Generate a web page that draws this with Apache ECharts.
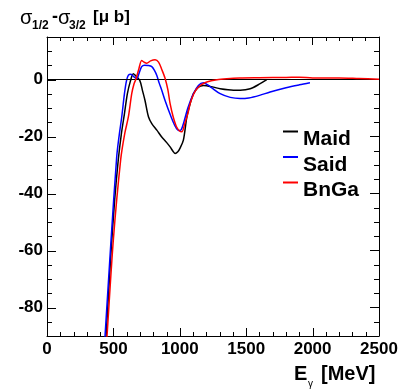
<!DOCTYPE html>
<html>
<head>
<meta charset="utf-8">
<script src="https://cdn.jsdelivr.net/npm/echarts@6/dist/echarts.min.js"></script>
<style>html,body{margin:0;padding:0;background:#fff}#c{width:408px;height:390px}</style>
</head>
<body>
<div id="c"></div>
<script>
var FONT = "'Liberation Sans', Arial, Helvetica, sans-serif";

var maidE = [430,445,480,510,537,560,583,605,628,650,672,700,720,738,764,789,827,864,900,927,950,965,985,1002,1027,1053,1078,1103,1140,1178,1253,1304,1404,1455,1530,1605,1655];
var maidV = [-100,-90,-62,-42,-28,-19,-12,-5,-0.5,2.1,1.2,-0.4,-4,-7.3,-13,-15.4,-17.7,-20.1,-22,-23.6,-25.2,-25.9,-25.3,-24,-21.2,-13.1,-8.4,-4.9,-2.6,-2.0,-2.6,-3.2,-3.7,-3.7,-3.2,-1.4,0];

var saidE = [420,437,480,525,545,563,583,598,613,632,655,676,695,713,735,760,789,810,827,845,864,889,930,965,990,1010,1030,1060,1103,1140,1178,1230,1304,1380,1454,1520,1600,1680,1800,1900,1980];
var saidV = [-102,-90,-58,-27,-19,-13,-5,-0.5,1.6,1.9,1.0,0.4,2.5,4.6,5.1,5.0,4.6,3.2,1.5,-1.2,-3.7,-7.3,-12.5,-16.3,-17.8,-17.6,-15,-10,-4.9,-2,-1.05,-2.5,-4.9,-6.2,-6.6,-6.4,-5.5,-4.3,-2.8,-1.8,-1.1];

var bngaE = [435,452,500,555,585,613,638,655,668,690,713,730,751,780,814,840,865,889,910,927,950,975,1000,1015,1040,1060,1078,1103,1128,1160,1203,1280,1354,1450,1600,1800,1900,2000,2200,2350,2500];
var bngaV = [-102,-90,-56,-28,-19,-13,-4.9,-1.5,0,3.5,6.75,6.2,5.8,6.6,7.0,6.2,3.5,0.5,-3.5,-8.4,-13,-16.5,-18.1,-18.3,-15,-12,-8.4,-5.2,-3.2,-1.8,-0.8,0,0.35,0.6,0.7,0.8,0.9,0.6,0.6,0.4,0.2];

var yMajor = [-80, -60, -40, -20, 0];
var seriesNames = ['Maid', 'Said', 'BnGa'];
var seriesColors = ['#000000', '#0000ff', '#ff0000'];

var X_MIN = 0, X_MAX = 2500, Y_MIN = -90, Y_MAX = 15;

function zip(a, b) { return a.map(function (v, i) { return [v, b[i]]; }); }

// tick positions (minor every 100 / every 5)
var xTickVals = []; for (var t = X_MIN; t <= X_MAX; t += 100) xTickVals.push(t);
var yTickVals = []; for (var u = Y_MIN; u <= Y_MAX; u += 5) yTickVals.push(u);

var GRID = {left: 47, right: 29, top: 37, bottom: 54};
var GW = 408 - GRID.left - GRID.right;
var GH = 390 - GRID.top - GRID.bottom;

var chart = echarts.init(document.getElementById('c'), null, {renderer: 'canvas'});
var blk = {color: '#000', width: 1};

function xFrame(pos, labels) {
  return {
    type: 'value', position: pos, min: X_MIN, max: X_MAX, interval: 500,
    axisLine: {show: true, onZero: false, lineStyle: blk},
    axisTick: {show: false}, minorTick: {show: false},
    splitLine: {show: false},
    axisLabel: {show: labels, margin: 5, color: '#000', fontSize: 17, fontWeight: 'bold', fontFamily: FONT,
                showMinLabel: true, showMaxLabel: true, formatter: function (v) { return String(v); }}
  };
}
// top edge inward ticks: bottom-type axis moved across the plot
function xTopTicks() {
  return {
    type: 'value', position: 'bottom', offset: -GH, min: X_MIN, max: X_MAX, interval: 500,
    axisLine: {show: false, onZero: false},
    axisTick: {show: true, length: 8, lineStyle: blk},
    minorTick: {show: true, splitNumber: 5, length: 4, lineStyle: blk},
    splitLine: {show: false}, minorSplitLine: {show: false},
    axisLabel: {show: false}
  };
}
function yFrame(pos, labels) {
  return {
    type: 'value', position: pos, min: Y_MIN, max: Y_MAX, interval: 5,
    axisLine: {show: true, onZero: false, lineStyle: blk},
    axisTick: {show: false},
    splitLine: {show: false},
    axisLabel: {show: labels, margin: 4, color: '#000', fontSize: 17, fontWeight: 'bold', fontFamily: FONT,
                formatter: function (v) { return (v % 20 === 0) ? String(v) : ''; }}
  };
}
// right edge inward ticks: left-type axes moved across the plot
function yRightMinor() {
  return {
    type: 'value', position: 'left', offset: -GW, min: Y_MIN, max: Y_MAX, interval: 5,
    axisLine: {show: false, onZero: false},
    axisTick: {show: true, length: 5, lineStyle: blk},
    splitLine: {show: false}, axisLabel: {show: false}
  };
}
function yRightMajor() {
  return {
    type: 'value', position: 'left', offset: -GW, min: Y_MIN, max: Y_MAX,
    axisLine: {show: false, onZero: false},
    axisTick: {show: true, length: 9, customValues: yMajor, lineStyle: blk},
    splitLine: {show: false}, axisLabel: {show: false}
  };
}

var series = [
  {name: 'Maid', data: zip(maidE, maidV)},
  {name: 'Said', data: zip(saidE, saidV)},
  {name: 'BnGa', data: zip(bngaE, bngaV)}
].map(function (s, i) {
  var o = {
    name: s.name, type: 'line', data: s.data, xAxisIndex: 0, yAxisIndex: 0,
    smooth: 0.3, showSymbol: false, symbol: 'none', clip: true,
    lineStyle: {color: seriesColors[i], width: 1.5}, itemStyle: {color: seriesColors[i]},
    z: 3 + i
  };
  if (i === 0) {
    o.markLine = {silent: true, symbol: 'none', label: {show: false},
      lineStyle: {color: '#000', width: 1, type: 'solid'}, data: [{yAxis: 0}], animation: false};
  }
  return o;
});

// inward ticks on bottom and left edges
series.push({
  type: 'custom', name: 'xticks', xAxisIndex: 0, yAxisIndex: 0, silent: true, clip: false, z: 10,
  data: xTickVals.map(function (v) { return [v, Y_MIN]; }),
  encode: {x: 0, y: 1},
  renderItem: function (params, api) {
    var v = api.value(0);
    var p = api.coord([v, Y_MIN]);
    var len = (v % 500 === 0) ? 8 : 4;
    var x = Math.round(p[0]) + 0.5, y = Math.round(p[1]);
    return {type: 'line', shape: {x1: x, y1: y, x2: x, y2: y - len}, style: {stroke: '#000', lineWidth: 1}};
  }
});
series.push({
  type: 'custom', name: 'yticks', xAxisIndex: 0, yAxisIndex: 0, silent: true, clip: false, z: 10,
  data: yTickVals.map(function (v) { return [X_MIN, v]; }),
  encode: {x: 0, y: 1},
  renderItem: function (params, api) {
    var v = api.value(1);
    var p = api.coord([X_MIN, v]);
    var len = (v % 20 === 0) ? 9 : 5;
    var x = Math.round(p[0]), y = Math.round(p[1]) + 0.5;
    return {type: 'line', shape: {x1: x, y1: y, x2: x + len, y2: y}, style: {stroke: '#000', lineWidth: 1}};
  }
});

var option = {
  animation: false,
  backgroundColor: '#fff',
  grid: {left: GRID.left, right: GRID.right, top: GRID.top, bottom: GRID.bottom, containLabel: false},
  xAxis: [xFrame('bottom', true), xFrame('top', false), xTopTicks()],
  yAxis: [yFrame('left', true), yFrame('right', false), yRightMinor(), yRightMajor()],
  legend: {
    orient: 'vertical', left: 278, top: 108, itemGap: -11.5, itemWidth: 15, itemHeight: 2,
    data: seriesNames.map(function (n) { return {name: n, icon: 'rect'}; }),
    formatter: function (n) { return '{t|' + n + '}'; },
    textStyle: {color: '#000', fontSize: 21, fontWeight: 'bold', fontFamily: FONT,
      rich: {t: {color: '#000', fontSize: 21, fontWeight: 'bold', fontFamily: FONT, lineHeight: 21, padding: [16, 0, 0, 0]}}},
    selectedMode: false
  },
  graphic: [
    {type: 'text', left: 20, top: 8, style: {text: 'σ', font: 'normal 20px ' + FONT, fill: '#000'}},
    {type: 'text', left: 32, top: 20, style: {text: '1/2', font: 'bold 12px ' + FONT, fill: '#000'}},
    {type: 'text', left: 52, top: 8, style: {text: '-', font: 'bold 18px ' + FONT, fill: '#000'}},
    {type: 'text', left: 58, top: 8, style: {text: 'σ', font: 'normal 20px ' + FONT, fill: '#000'}},
    {type: 'text', left: 69, top: 20, style: {text: '3/2', font: 'bold 12px ' + FONT, fill: '#000'}},
    {type: 'text', left: 93, top: 9, style: {text: '[μ b]', font: 'bold 17px ' + FONT, fill: '#000'}},
    {type: 'text', left: 294, top: 364, style: {text: 'E', font: 'bold 20px ' + FONT, fill: '#000'}},
    {type: 'text', left: 308, top: 379, style: {text: 'γ', font: 'normal 10px ' + FONT, fill: '#000'}},
    {type: 'text', left: 321, top: 364, style: {text: '[MeV]', font: 'bold 20px ' + FONT, fill: '#000'}}
  ],
  series: series
};
chart.setOption(option);
</script>
</body>
</html>
